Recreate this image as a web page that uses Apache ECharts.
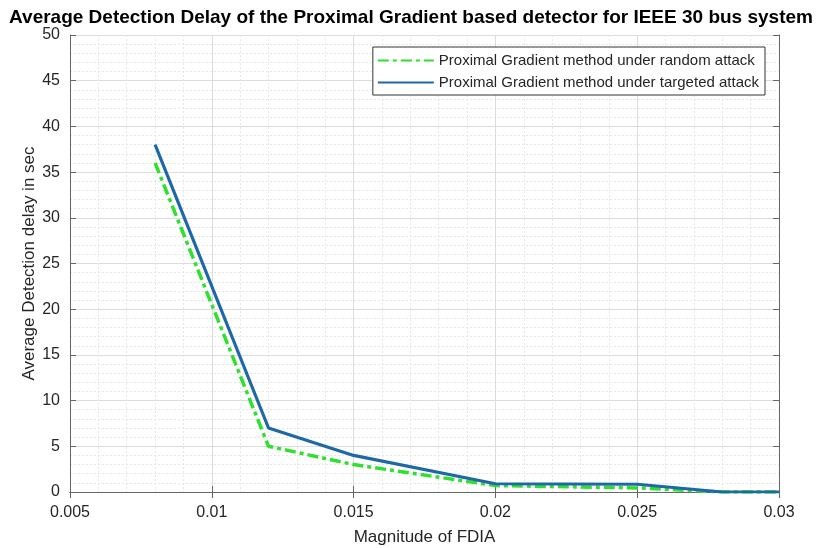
<!DOCTYPE html>
<html>
<head>
<meta charset="utf-8">
<script src="https://cdn.jsdelivr.net/npm/echarts@6/dist/echarts.min.js"></script>
<style>
  html, body { margin: 0; padding: 0; background: #fff; }
  #chart { width: 822px; height: 548px; }
</style>
</head>
<body>
<div id="chart"></div>
<script>
const magnitudes = [0.008, 0.012, 0.015, 0.02, 0.025, 0.028, 0.03]
const randomAttack = [36, 5, 3, 0.7, 0.45, 0, 0]
const targetedAttack = [38, 7, 4, 0.9, 0.85, 0, 0]
const seriesNames = [
  'Proximal Gradient method under random attack',
  'Proximal Gradient method under targeted attack'
]

const font = 'Liberation Sans, Arial, sans-serif'
const axisColor = '#262626'

const chart = echarts.init(document.getElementById('chart'))

const fmtX = v => parseFloat(v.toFixed(4)).toString()

const baseX = {
  type: 'value',
  min: 0.005,
  max: 0.03,
  interval: 0.005,
  axisLine: { show: true, lineStyle: { color: '#666', width: 1 } },
  axisTick: { show: true, inside: true, length: 6, lineStyle: { color: '#666' } },
  minorTick: { show: false, splitNumber: 5 }
}
const baseY = {
  type: 'value',
  min: 0,
  max: 50,
  interval: 5,
  axisLine: { show: true, lineStyle: { color: '#666', width: 1 } },
  axisTick: { show: true, inside: true, length: 6, lineStyle: { color: '#666' } },
  minorTick: { show: false, splitNumber: 5 }
}

const option = {
  backgroundColor: '#fff',
  animation: false,
  title: {
    text: 'Average Detection Delay of the Proximal Gradient based detector for IEEE 30 bus system',
    left: 'center',
    top: 3,
    textStyle: { fontFamily: font, fontSize: 19, fontWeight: 'bold', color: '#000' }
  },
  legend: {
    data: seriesNames,
    orient: 'vertical',
    right: 57,
    top: 47,
    itemWidth: 56,
    itemHeight: 12,
    itemGap: 7,
    padding: [6, 6, 5, 4],
    backgroundColor: '#fff',
    borderColor: '#333',
    borderWidth: 1,
    borderRadius: 0,
    itemStyle: { opacity: 0 },
    textStyle: { fontFamily: font, fontSize: 15, color: '#262626' }
  },
  grid: { left: 70, right: 43, top: 35, bottom: 56, outerBoundsMode: 'none' },
  xAxis: [
    Object.assign({}, baseX, {
      position: 'bottom',
      name: 'Magnitude of FDIA',
      nameLocation: 'middle',
      nameGap: 37,
      nameMoveOverlap: false,
      nameTextStyle: { fontFamily: font, fontSize: 17, color: axisColor },
      axisLabel: { color: axisColor, fontFamily: font, fontSize: 16, margin: 13, formatter: fmtX },
      splitLine: { show: true, lineStyle: { color: '#dcdcdc', width: 1 } },
      minorSplitLine: { show: true, lineStyle: { color: '#e6e6e6', width: 1, type: [2, 2] } }
    }),
    Object.assign({}, baseX, {
      position: 'top',
      axisLabel: { show: false },
      splitLine: { show: false }
    })
  ],
  yAxis: [
    Object.assign({}, baseY, {
      position: 'left',
      name: 'Average Detection delay in sec',
      nameLocation: 'middle',
      nameGap: 32,
      nameMoveOverlap: false,
      nameTextStyle: { fontFamily: font, fontSize: 17, color: axisColor },
      axisLabel: { color: axisColor, fontFamily: font, fontSize: 16, margin: 10 },
      splitLine: { show: true, lineStyle: { color: '#dcdcdc', width: 1 } },
      minorSplitLine: { show: true, lineStyle: { color: '#e6e6e6', width: 1, type: [2, 2] } }
    }),
    Object.assign({}, baseY, {
      position: 'right',
      axisLabel: { show: false },
      splitLine: { show: false }
    })
  ],
  series: [
    {
      name: seriesNames[0],
      type: 'line',
      data: magnitudes.map((m, i) => [m, randomAttack[i]]),
      showSymbol: false,
      symbol: 'none',
      lineStyle: { color: '#2fe02f', width: 3.5, type: [11, 4, 4, 4] },
      itemStyle: { color: '#2fe02f' },
      z: 3
    },
    {
      name: seriesNames[1],
      type: 'line',
      data: magnitudes.map((m, i) => [m, targetedAttack[i]]),
      showSymbol: false,
      symbol: 'none',
      lineStyle: { color: '#1f68a8', width: 3.2 },
      itemStyle: { color: '#1f68a8' },
      z: 4
    }
  ]
}

chart.setOption(option)
</script>
</body>
</html>
